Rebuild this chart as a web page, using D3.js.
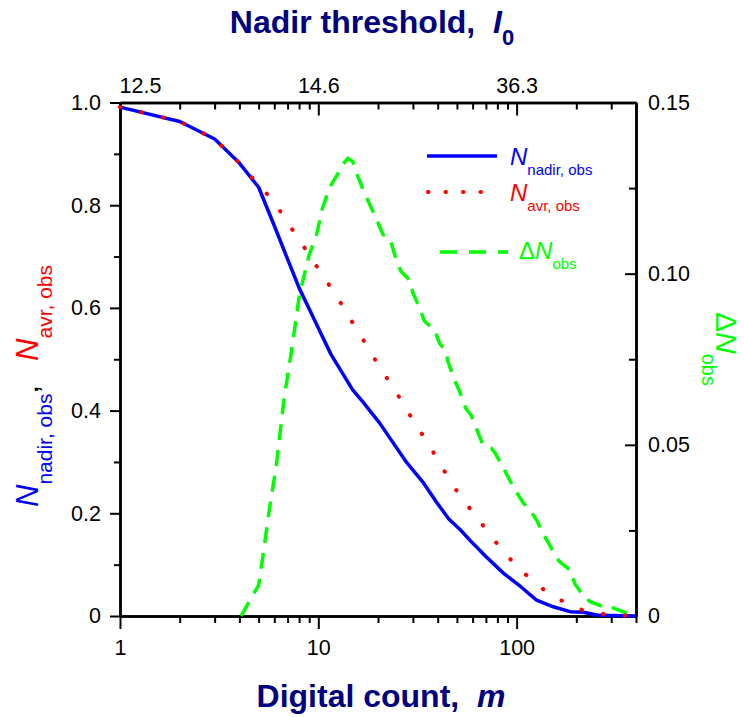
<!DOCTYPE html>
<html>
<head>
<meta charset="utf-8">
<script src="https://cdn.jsdelivr.net/npm/d3@7"></script>
<style>
body { margin: 0; background: #fff; }
svg text { font-family: "Liberation Sans", Arial, sans-serif; white-space: pre; }
</style>
</head>
<body>
<svg id="chart"></svg>
<script>
// values
const nadirM = [1, 2, 3, 4, 5, 6, 7, 8, 9, 10, 11.6, 13, 14.9, 16.7, 20.4, 23.3, 28, 34, 39.4, 45.5, 52, 60, 70, 86, 105, 126, 153, 186, 217, 254, 300, 400];
const nadirN = [0.991, 0.963, 0.929, 0.882, 0.835, 0.760, 0.695, 0.639, 0.598, 0.561, 0.509, 0.478, 0.4405, 0.418, 0.3756, 0.343, 0.298, 0.2587, 0.222, 0.189, 0.168, 0.142, 0.116, 0.083, 0.057, 0.031, 0.018, 0.0084, 0.0072, 0.002, 0.001, 0];

const avrM = [1, 2, 3, 4, 5, 5.93, 6.83, 7.8, 8.95, 10.2, 11.6, 13.2, 14.9, 16.9, 19, 21.6, 24.7, 27.8, 31.6, 35.8, 40.6, 45.5, 52, 61, 71, 83, 99, 120, 145, 178, 219, 267, 327, 400];
const avrN = [0.991, 0.963, 0.929, 0.882, 0.840, 0.808, 0.773, 0.739, 0.705, 0.671, 0.639, 0.605, 0.571, 0.537, 0.504, 0.470, 0.436, 0.402, 0.369, 0.335, 0.301, 0.267, 0.233, 0.199, 0.166, 0.132, 0.099, 0.069, 0.044, 0.025, 0.010, 0.004, 0.0014, 0];

const deltaM = [4.08, 4.58, 5.0, 5.25, 5.66, 6.13, 6.74, 7.3, 8.04, 9.0, 9.76, 10.5, 11.4, 12.5, 13.3, 14.1, 14.9, 15.8, 16.8, 18.5, 19.7, 21.2, 22.4, 23.3, 24.7, 26.1, 28.8, 30, 32.4, 34.3, 38.6, 40.8, 44.1, 45, 48.6, 51.6, 55.4, 59.2, 64, 67.7, 74.5, 77.5, 85, 96, 108, 116.5, 126, 137, 145, 159, 168, 186, 196, 217, 235, 274, 309, 361, 400];
const deltaN = [0, 0.0052, 0.009, 0.0173, 0.031, 0.0437, 0.0641, 0.0768, 0.0939, 0.1056, 0.1109, 0.1192, 0.1252, 0.129, 0.132, 0.1337, 0.1328, 0.1285, 0.1246, 0.1192, 0.1158, 0.1114, 0.1109, 0.109, 0.1041, 0.1007, 0.0982, 0.0944, 0.090, 0.0861, 0.0836, 0.0797, 0.0773, 0.0744, 0.069, 0.0656, 0.0607, 0.0585, 0.0534, 0.050, 0.049, 0.0478, 0.0437, 0.0378, 0.033, 0.031, 0.0281, 0.0237, 0.0213, 0.0169, 0.0154, 0.0135, 0.0096, 0.0058, 0.0042, 0.0027, 0.0023, 0.0008, 0.0002];

const bottomTicks = [1, 10, 100];
const logMinor = [2, 3, 4, 5, 6, 7, 8, 9, 20, 30, 40, 50, 60, 70, 80, 90, 200, 300, 400];
const topLabels = ["12.5", "14.6", "36.3"];
const leftTicks = [0, 0.2, 0.4, 0.6, 0.8, 1.0];
const leftMinor = [0.1, 0.3, 0.5, 0.7, 0.9];
const rightTicks = [0, 0.05, 0.10, 0.15];
const rightMinor = [0.025, 0.075, 0.125];

const margin = {top: 102.5, right: 108, bottom: 101, left: 120},
      width = 744 - margin.left - margin.right,
      height = 717 - margin.top - margin.bottom;

const svg0 = d3.select("#chart")
    .attr("width", 744)
    .attr("height", 717);

svg0.append("rect").attr("width", 744).attr("height", 717).attr("fill", "#fff");

const svg = svg0.append("g")
    .attr("transform", `translate(${margin.left},${margin.top})`);

const x = d3.scaleLog().domain([1, 400]).range([0, width]);
const yL = d3.scaleLinear().domain([0, 1]).range([height, 0]);
const yR = d3.scaleLinear().domain([0, 0.15]).range([height, 0]);

function styleAxis(g) {
    g.attr("font-family", null).attr("font-size", null);
    g.select(".domain").attr("stroke", "#000").attr("stroke-width", 2.5);
    g.selectAll(".tick line").attr("stroke", "#000").attr("stroke-width", 2);
    g.selectAll(".tick text").style("font-size", "21.5px").attr("fill", "#000");
}

// bottom axis
svg.append("g")
    .attr("transform", `translate(0,${height})`)
    .call(d3.axisBottom(x).tickValues(logMinor).tickSize(7).tickSizeOuter(0).tickFormat(""))
    .call(styleAxis);
svg.append("g")
    .attr("transform", `translate(0,${height})`)
    .call(d3.axisBottom(x).tickValues(bottomTicks).tickSize(13).tickSizeOuter(0).tickPadding(11).tickFormat(d3.format("d")))
    .call(styleAxis);

// top axis (ticks inward)
svg.append("g")
    .call(d3.axisTop(x).tickValues(logMinor).tickSize(-7).tickSizeOuter(0).tickFormat(""))
    .call(styleAxis);
const topAxis = svg.append("g")
    .call(d3.axisTop(x).tickValues(bottomTicks).tickSize(-13).tickSizeOuter(0).tickPadding(10)
        .tickFormat((d, i) => topLabels[i]))
    .call(styleAxis);
topAxis.select(".tick text").attr("text-anchor", "start").attr("x", -1);

// left axis
svg.append("g")
    .call(d3.axisLeft(yL).tickValues(leftMinor).tickSize(6).tickSizeOuter(0).tickFormat(""))
    .call(styleAxis);
svg.append("g")
    .call(d3.axisLeft(yL).tickValues(leftTicks).tickSize(10).tickSizeOuter(0).tickPadding(9)
        .tickFormat(d => d === 0 ? "0" : d3.format(".1f")(d)))
    .call(styleAxis);

// right axis (ticks inward)
svg.append("g")
    .attr("transform", `translate(${width},0)`)
    .call(d3.axisRight(yR).tickValues(rightMinor).tickSize(-7).tickSizeOuter(0).tickFormat(""))
    .call(styleAxis);
svg.append("g")
    .attr("transform", `translate(${width},0)`)
    .call(d3.axisRight(yR).tickValues(rightTicks).tickSize(-11).tickSizeOuter(0).tickPadding(12)
        .tickFormat(d => d === 0 ? "0" : d3.format(".2f")(d)))
    .call(styleAxis);

// curves
const lineL = d3.line().x(d => x(d[0])).y(d => yL(d[1]));
const lineR = d3.line().x(d => x(d[0])).y(d => yR(d[1]));

svg.append("path")
    .datum(d3.zip(deltaM, deltaN))
    .attr("fill", "none")
    .attr("stroke", "#00ff00")
    .attr("stroke-width", 3.5)
    .attr("stroke-dasharray", "16 10")
    .attr("d", lineR);

svg.append("path")
    .datum(d3.zip(nadirM, nadirN))
    .attr("fill", "none")
    .attr("stroke", "#0000ff")
    .attr("stroke-width", 3.5)
    .attr("stroke-linejoin", "round")
    .attr("d", lineL);

svg.append("path")
    .datum(d3.zip(avrM, avrN))
    .attr("fill", "none")
    .attr("stroke", "#ff0000")
    .attr("stroke-width", 4)
    .attr("stroke-linecap", "round")
    .attr("stroke-dasharray", "0.5 21.5")
    .attr("d", lineL);

// legend
const legend = svg0.append("g");
legend.append("line").attr("x1", 427).attr("x2", 497).attr("y1", 156).attr("y2", 156)
    .attr("stroke", "#0000ff").attr("stroke-width", 3.5);
legend.append("line").attr("x1", 428).attr("x2", 482).attr("y1", 192).attr("y2", 192)
    .attr("stroke", "#ff0000").attr("stroke-width", 4).attr("stroke-linecap", "round")
    .attr("stroke-dasharray", "0.5 17");
legend.append("line").attr("x1", 440).attr("x2", 508).attr("y1", 252).attr("y2", 252)
    .attr("stroke", "#00ff00").attr("stroke-width", 3.5).attr("stroke-dasharray", "17 12");

function subLabel(parent, px, py, color, pre, sub) {
    const t = parent.append("text").attr("x", px).attr("y", py).attr("fill", color);
    if (pre) t.append("tspan").style("font-size", "24px").text(pre);
    t.append("tspan").style("font-size", "24px").style("font-style", "italic").text("N");
    t.append("tspan").style("font-size", "15px").attr("dy", 10).text(sub);
}
subLabel(legend, 510, 165, "#0000ff", null, "nadir, obs");
subLabel(legend, 510, 201, "#ff0000", null, "avr, obs");
subLabel(legend, 519, 259, "#00ff00", "\u0394", "obs");

// titles
const topTitle = svg0.append("text")
    .attr("x", 372).attr("y", 33)
    .attr("text-anchor", "middle")
    .attr("fill", "#000080")
    .style("font-size", "32px").style("font-weight", "bold");
topTitle.append("tspan").text("Nadir threshold,  ");
topTitle.append("tspan").style("font-style", "italic").text("I");
topTitle.append("tspan").attr("dy", 12).style("font-size", "22px").text("0");

const bottomTitle = svg0.append("text")
    .attr("x", 381).attr("y", 707)
    .attr("text-anchor", "middle")
    .attr("fill", "#000080")
    .style("font-size", "32px").style("font-weight", "bold");
bottomTitle.append("tspan").text("Digital count,  ");
bottomTitle.append("tspan").style("font-style", "italic").text("m");

// left axis title (rotated)
const leftTitle = svg0.append("text")
    .attr("transform", "translate(38,507) rotate(-90)");
leftTitle.append("tspan").attr("fill", "#0000ff").style("font-size", "31px").style("font-style", "italic").text("N");
leftTitle.append("tspan").attr("fill", "#0000ff").style("font-size", "21px").attr("dy", 14).text("nadir, obs");
leftTitle.append("tspan").attr("fill", "#000").style("font-size", "31px").attr("dy", -14).text(",");
leftTitle.append("tspan").attr("fill", "#ff0000").style("font-size", "31px").style("font-style", "italic").attr("dx", 24).text("N");
leftTitle.append("tspan").attr("fill", "#ff0000").style("font-size", "21px").attr("dy", 14).text("avr, obs");

// right axis title (rotated)
const rightTitle = svg0.append("text")
    .attr("transform", "translate(716,312) rotate(90)")
    .attr("fill", "#00ff00");
rightTitle.append("tspan").style("font-size", "30px").text("\u0394");
rightTitle.append("tspan").style("font-size", "30px").style("font-style", "italic").text("N");
rightTitle.append("tspan").style("font-size", "20px").attr("dy", 14).text("obs");
</script>
</body>
</html>
